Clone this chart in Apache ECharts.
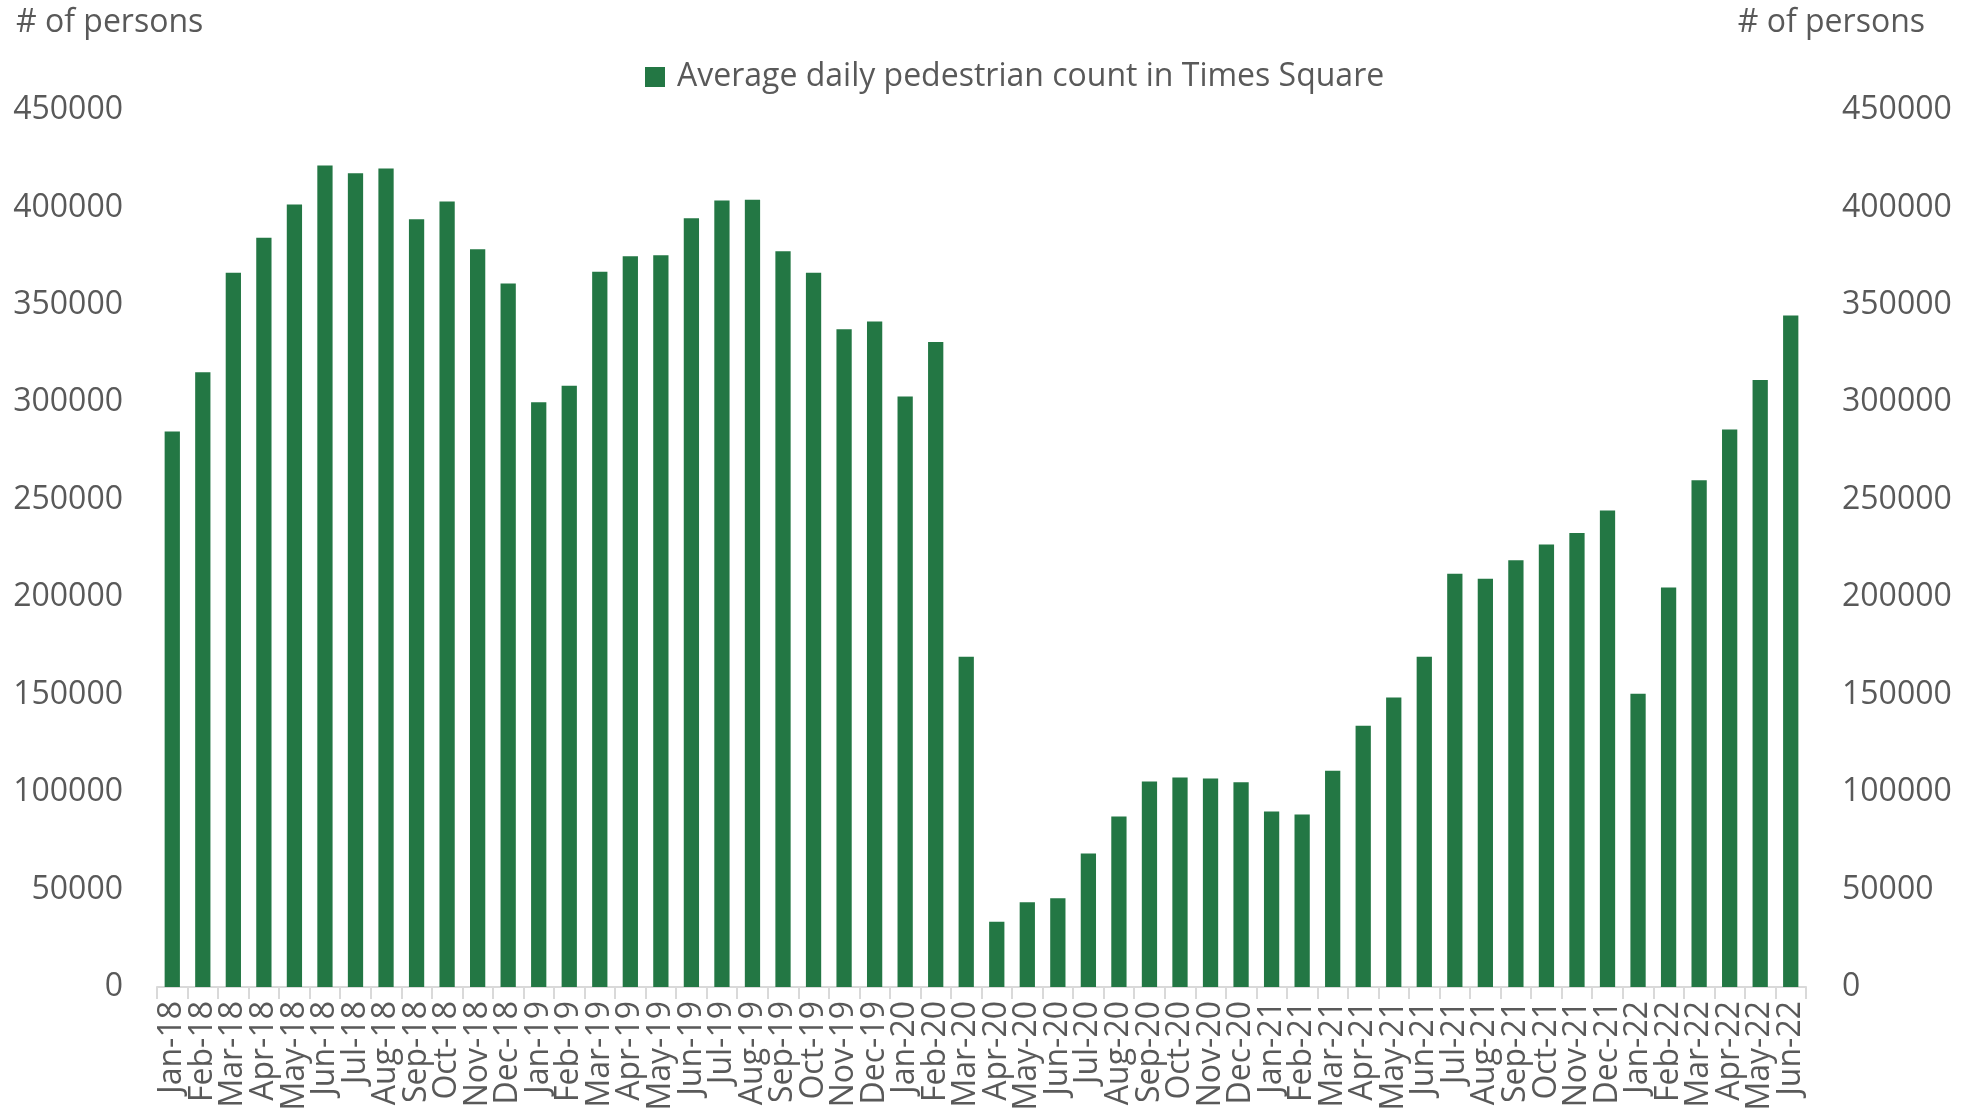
<!DOCTYPE html>
<html>
<head>
<meta charset="utf-8">
<script src="https://cdn.jsdelivr.net/npm/echarts@6/dist/echarts.min.js"></script>
<style>
  html, body { margin: 0; padding: 0; background: #fff; }
  #chart { width: 1976px; height: 1116px; }
</style>
</head>
<body>
<div id="chart"></div>
<script>
// 数据
const months = [
  'Jan-18', 'Feb-18', 'Mar-18', 'Apr-18', 'May-18', 'Jun-18', 'Jul-18', 'Aug-18', 'Sep-18', 'Oct-18', 'Nov-18', 'Dec-18',
  'Jan-19', 'Feb-19', 'Mar-19', 'Apr-19', 'May-19', 'Jun-19', 'Jul-19', 'Aug-19', 'Sep-19', 'Oct-19', 'Nov-19', 'Dec-19',
  'Jan-20', 'Feb-20', 'Mar-20', 'Apr-20', 'May-20', 'Jun-20', 'Jul-20', 'Aug-20', 'Sep-20', 'Oct-20', 'Nov-20', 'Dec-20',
  'Jan-21', 'Feb-21', 'Mar-21', 'Apr-21', 'May-21', 'Jun-21', 'Jul-21', 'Aug-21', 'Sep-21', 'Oct-21', 'Nov-21', 'Dec-21',
  'Jan-22', 'Feb-22', 'Mar-22', 'Apr-22', 'May-22', 'Jun-22'
];
const pedestrians = [
  285000, 315500, 366500, 384500, 401500, 421500, 417500, 420000, 394000, 403000, 378500, 361000,
  300000, 308500, 367000, 375000, 375500, 394500, 403500, 404000, 377500, 366500, 337500, 341500,
  303000, 331000, 169500, 33500, 43500, 45500, 68500, 87500, 105500, 107500, 107000, 105000,
  90000, 88500, 111000, 134000, 148500, 169500, 212000, 209500, 219000, 227000, 233000, 244500,
  150500, 205000, 260000, 286000, 311500, 344500
];
const yTicks = { min: 0, max: 450000, interval: 50000 };

const fontFamily = '"Open Sans", "Noto Sans", sans-serif';
const gray = '#595959';
const fs = 32;

let option = {
  animation: false,
  textStyle: { fontFamily: fontFamily },
  title: [{
    text: '# of persons',
    left: 11,
    top: 2,
    textStyle: { color: gray, fontSize: fs, fontWeight: 'normal', fontFamily: fontFamily }
  }, {
    text: '# of persons',
    right: 46,
    top: 2,
    textStyle: { color: gray, fontSize: fs, fontWeight: 'normal', fontFamily: fontFamily }
  }],
  legend: {
    data: ['Average daily pedestrian count in Times Square'],
    top: 56,
    left: 640,
    icon: 'rect',
    itemWidth: 20,
    itemHeight: 20,
    itemGap: 10,
    textStyle: { color: gray, fontSize: fs, fontFamily: fontFamily, padding: [0, 0, 0, 7] }
  },
  grid: {
    left: 157,
    right: 170,
    top: 110,
    bottom: 129,
    containLabel: false
  },
  xAxis: {
    type: 'category',
    data: months,
    axisLine: { lineStyle: { color: '#d9d9d9', width: 2 } },
    axisTick: { show: true, alignWithLabel: false, length: 12, lineStyle: { color: '#d9d9d9', width: 2 } },
    axisLabel: {
      rotate: 90,
      interval: 0,
      color: gray,
      fontSize: fs,
      margin: 14,
      fontFamily: fontFamily
    }
  },
  yAxis: [{
    type: 'value',
    min: yTicks.min,
    max: yTicks.max,
    interval: yTicks.interval,
    splitLine: { show: false },
    axisLine: { show: false },
    axisTick: { show: false },
    axisLabel: { color: gray, fontSize: fs, margin: 34, fontFamily: fontFamily, formatter: v => String(v) }
  }, {
    type: 'value',
    position: 'right',
    min: yTicks.min,
    max: yTicks.max,
    interval: yTicks.interval,
    splitLine: { show: false },
    axisLine: { show: false },
    axisTick: { show: false },
    axisLabel: { color: gray, fontSize: fs, margin: 36, fontFamily: fontFamily, formatter: v => String(v) }
  }],
  series: [{
    name: 'Average daily pedestrian count in Times Square',
    type: 'bar',
    barCategoryGap: '50%',
    itemStyle: { color: '#237744' },
    data: pedestrians
  }]
};

let myChart = echarts.init(document.getElementById('chart'));
myChart.setOption(option);
</script>
</body>
</html>
